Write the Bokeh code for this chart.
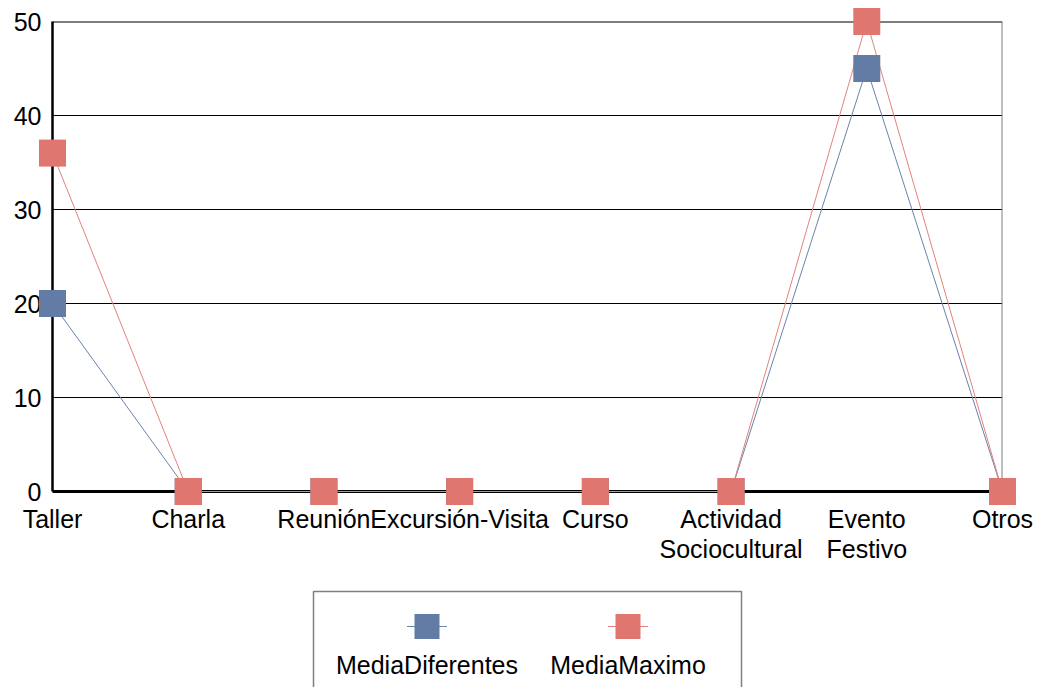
from bokeh.plotting import figure
from bokeh.models import Range1d, FixedTicker, Span
from bokeh.layouts import column
from bokeh.embed import file_html
from bokeh.resources import INLINE
from bokeh.core.properties import value

# ---- data ----
categories = ["Taller", "Charla", "Reunión", "Excursión-Visita", "Curso",
              "Actividad\nSociocultural", "Evento\nFestivo", "Otros"]
media_diferentes = [20, 0, 0, 0, 0, 0, 45, 0]
media_maximo = [36, 0, 0, 0, 0, 0, 50, 0]
y_ticks = [0, 10, 20, 30, 40, 50]
series_names = ["MediaDiferentes", "MediaMaximo"]

# ---- style ----
FONT = "Liberation Sans"
FS = "25px"
marker_colors = ["#637ca6", "#df7770"]
line_colors = ["#6a83ab", "#e4837c"]

W = 1040
LEFT, RIGHT = 52, 1002
x = list(range(len(categories)))

p = figure(width=W, height=590,
           x_range=Range1d(0, len(categories) - 1),
           y_range=Range1d(y_ticks[0], y_ticks[-1]),
           output_backend="svg", toolbar_location=None,
           min_border_left=LEFT, min_border_right=W - RIGHT,
           min_border_top=21, min_border_bottom=99)
p.outline_line_color = None
p.background_fill_color = "white"
p.border_fill_color = "white"

xa = p.xaxis[0]
xa.ticker = FixedTicker(ticks=x)
xa.major_label_overrides = {i: c for i, c in zip(x, categories)}
ya = p.yaxis[0]
ya.ticker = FixedTicker(ticks=y_ticks)
for ax in (xa, ya):
    ax.major_tick_out = 0
    ax.major_tick_in = 0
    ax.minor_tick_out = 0
    ax.minor_tick_in = 0
    ax.axis_line_color = "black"
    ax.major_label_text_font = FONT
    ax.major_label_text_font_size = FS
    ax.major_label_text_color = "black"
xa.axis_line_width = 3
ya.axis_line_width = 2.5
xa.major_label_standoff = 13
xa.major_label_text_line_height = 1.1
ya.major_label_standoff = 11

p.xgrid.visible = False
p.ygrid.ticker = FixedTicker(ticks=y_ticks)
p.ygrid.grid_line_color = "black"
p.ygrid.grid_line_width = 1

p.add_layout(Span(location=y_ticks[-1], dimension="width", line_color="black", line_width=2))
p.add_layout(Span(location=len(categories) - 1, dimension="height", line_color="#7f7f7f", line_width=2))

series = [media_diferentes, media_maximo]
for ys, lc in zip(series, line_colors):
    p.line(x, ys, line_color=lc, line_width=1, level="overlay")
for ys, mc in zip(series, marker_colors):
    p.scatter(x, ys, marker="square", size=27, fill_color=mc, line_color=None, level="overlay")

# ---- legend panel (coordinates in page pixels; y measured up from page bottom) ----
leg = figure(width=W, height=97, x_range=Range1d(LEFT, RIGHT), y_range=Range1d(0, 97),
             output_backend="svg", toolbar_location=None,
             min_border_left=LEFT, min_border_right=W - RIGHT,
             min_border_top=0, min_border_bottom=0,
             x_axis_location=None, y_axis_location=None)
leg.grid.visible = False
leg.outline_line_color = None
leg.background_fill_color = "white"
leg.border_fill_color = "white"
leg.quad(left=313, right=741, bottom=-10, top=96, fill_color=None,
         line_color="#808080", line_width=1.5, level="overlay")
centers = [426.5, 627.5]
for cx, name, mc, lc in zip(centers, series_names, marker_colors, line_colors):
    leg.segment(x0=cx - 20, x1=cx + 20, y0=61, y1=61, line_color=lc, line_width=1)
    leg.scatter(x=[cx], y=[61], marker="square", size=25, fill_color=mc, line_color=None)
    leg.text(x=[cx], y=[23], text=[name], text_align="center", text_baseline="alphabetic",
             text_font=value(FONT), text_font_size=FS, text_color="black")

layout = column(p, leg, spacing=0)
open("out.html", "w").write(file_html(layout, INLINE))
